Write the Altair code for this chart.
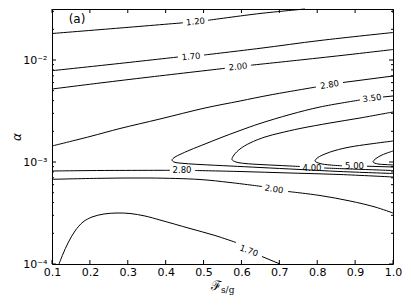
import altair as alt
import pandas as pd

W, H = 341, 255

# ---- contour polylines: (F_s/g, alpha), split at inline labels ----
c120_a = [(0.1000, 0.01818), (0.2795, 0.02059), (0.4457, 0.02316)]
c120_b = [(0.5117, 0.02450), (0.6490, 0.02857), (0.7677, 0.03162)]
c170_a = [(0.1000, 0.007857), (0.2531, 0.009035), (0.4326, 0.01070)]
c170_b = [(0.5012, 0.01119), (0.6490, 0.01302), (0.8073, 0.01553), (1.0000, 0.01860)]
c200_a = [(0.1000, 0.005196), (0.2267, 0.005949), (0.3587, 0.006813), (0.5566, 0.008289)]
c200_b = [(0.6252, 0.008892), (0.7545, 0.01000), (0.8865, 0.01132), (1.0000, 0.01267)]
c280_a = [(0.1000, 0.001435), (0.2003, 0.001778), (0.2795, 0.002130), (0.3850, 0.002640),
          (0.5038, 0.003383), (0.5962, 0.003963), (0.6754, 0.004538), (0.7968, 0.005435)]
c280_b = [(0.8680, 0.006016), (1.0000, 0.006967)]
c350_a = [(0.9736, 0.004338), (1.0000, 0.004437)]
c350_b = [(0.9129, 0.004054), (0.8073, 0.003461), (0.7282, 0.002922), (0.6490, 0.002385),
          (0.5962, 0.002036), (0.5434, 0.001719), (0.5038, 0.001501), (0.4642, 0.001311),
          (0.4378, 0.001185), (0.4246, 0.001119), (0.4167, 0.001046), (0.4220, 0.001000),
          (0.4510, 0.0009667), (0.4906, 0.0009451), (0.5698, 0.0009138), (0.6490, 0.0008834),
          (0.7545, 0.0008444), (0.8601, 0.0008069), (1.0000, 0.0007713)]
c400_a = [(1.0000, 0.003092), (0.9129, 0.002700), (0.8337, 0.002412), (0.7545, 0.002130),
          (0.7018, 0.001924), (0.6622, 0.001758), (0.6226, 0.001536), (0.5962, 0.001341),
          (0.5804, 0.001171), (0.5751, 0.001058), (0.5856, 0.001000), (0.6094, 0.0009667),
          (0.6490, 0.0009451), (0.7018, 0.0009241), (0.7545, 0.0009035)]
c400_b = [(0.8179, 0.0008735), (0.8865, 0.0008540), (1.0000, 0.0008254)]
c500_a = [(1.0000, 0.001606), (0.9393, 0.001501), (0.8865, 0.001403), (0.8469, 0.001296),
          (0.8205, 0.001198), (0.8020, 0.001107), (0.7941, 0.001023), (0.8073, 0.0009667),
          (0.8337, 0.0009346), (0.8654, 0.0009178)]
c500_b = [(0.9314, 0.0009097), (1.0000, 0.0008934)]
c600 = [(1.0000, 0.001282), (0.9710, 0.001171), (0.9551, 0.001082), (0.9472, 0.001000),
        (0.9604, 0.0009559), (0.9789, 0.0009451), (1.0000, 0.0009346)]
c280_lo_a = [(0.1000, 0.0008161), (0.2267, 0.0008254), (0.4114, 0.0008290)]
c280_lo_b = [(0.4774, 0.0008254), (0.5962, 0.0008069), (0.7282, 0.0007800),
             (0.8601, 0.0007541), (1.0000, 0.0007128)]
c200_lo_a = [(0.1000, 0.0006766), (0.2267, 0.0006920), (0.3587, 0.0006967),
             (0.4906, 0.0006735), (0.5698, 0.0006295), (0.6543, 0.0005752)]
c200_lo_b = [(0.7229, 0.0005137), (0.8073, 0.0004695), (0.8865, 0.0004147),
             (0.9525, 0.0003622), (1.0000, 0.0003162)]
c170_lo_a = [(0.1185, 0.0001000), (0.1290, 0.0001253), (0.1422, 0.0001606), (0.1607, 0.0002106),
             (0.1818, 0.0002580), (0.2056, 0.0002889), (0.2372, 0.0003092), (0.2716, 0.0003162),
             (0.3059, 0.0003127), (0.3455, 0.0002955), (0.3850, 0.0002700), (0.4642, 0.0002229),
             (0.5302, 0.0001903), (0.5856, 0.0001625)]
c170_lo_b = [(0.6543, 0.0001184), (0.7018, 0.0001000)]

# ---- inline contour labels ----
lab_text = ["1.20", "1.70", "2.00", "2.80", "3.50", "4.00", "5.00", "2.80", "2.00", "1.70"]
lab_F = [0.4787, 0.4669, 0.5909, 0.8324, 0.9446, 0.7862, 0.8984, 0.4431, 0.6859, 0.6199]
lab_alpha = [0.02385, 0.01087, 0.008636, 0.005752, 0.004241, 0.0008735, 0.0009138,
             0.000829, 0.0005435, 0.0001356]
lab_angle = [354.5, 354.5, 353.5, 350.5, 352, 0, 0, 0, 9, 21]

# ---- ticks ----
x_ticks = [0.1, 0.2, 0.3, 0.4, 0.5, 0.6, 0.7, 0.8, 0.9, 1.0]
y_major = [1e-4, 1e-3, 1e-2]
y_minor = [2e-4, 3e-4, 4e-4, 5e-4, 6e-4, 7e-4, 8e-4, 9e-4,
           2e-3, 3e-3, 4e-3, 5e-3, 6e-3, 7e-3, 8e-3, 9e-3,
           2e-2, 3e-2]

segments = {
    "c120_a": c120_a, "c120_b": c120_b, "c170_a": c170_a, "c170_b": c170_b,
    "c200_a": c200_a, "c200_b": c200_b, "c280_a": c280_a, "c280_b": c280_b,
    "c350_a": c350_a, "c350_b": c350_b, "c400_a": c400_a, "c400_b": c400_b,
    "c500_a": c500_a, "c500_b": c500_b, "c600": c600,
    "c280_lo_a": c280_lo_a, "c280_lo_b": c280_lo_b,
    "c200_lo_a": c200_lo_a, "c200_lo_b": c200_lo_b,
    "c170_lo_a": c170_lo_a, "c170_lo_b": c170_lo_b,
}
rows = []
for name, seg in segments.items():
    for i, (f, a) in enumerate(seg):
        rows.append({"seg": name, "i": i, "F": f, "alpha": a})
lines_df = pd.DataFrame(rows)

labels_df = pd.DataFrame({"text": lab_text, "F": lab_F, "alpha": lab_alpha, "angle": lab_angle})
xt_df = pd.DataFrame({"F": x_ticks})
ymaj_df = pd.DataFrame({"alpha": y_major})
ymin_df = pd.DataFrame({"alpha": y_minor})

x_enc = alt.X(
    "F:Q",
    scale=alt.Scale(domain=[0.1, 1.0], nice=False, zero=False),
    axis=alt.Axis(values=x_ticks, format=".1f", ticks=False, tickSize=0, domain=False,
                  grid=False, labelFontSize=11, labelFont="DejaVu Sans", labelColor="black",
                  labelPadding=2, labelFlush=False, labelOverlap=False, title=None),
)
y_enc = alt.Y(
    "alpha:Q",
    scale=alt.Scale(type="log", domain=[1e-4, 0.0316228], nice=False),
    axis=alt.Axis(values=y_major,
                  labelExpr="datum.value < 0.0005 ? '10⁻⁴' : (datum.value < 0.005 ? '10⁻³' : '10⁻²')",
                  ticks=False, tickSize=0, domain=False, grid=False, labelFontSize=11,
                  labelFont="DejaVu Sans", labelColor="black", labelPadding=5,
                  labelFlush=False, labelOverlap=False,
                  title="α", titleFont="DejaVu Sans", titleFontSize=12, titleFontStyle="italic",
                  titleFontWeight="normal", titleColor="black", titleAngle=270,
                  titleX=-36, titleY=H / 2, titleAlign="center", titleBaseline="middle"),
)

lines = alt.Chart(lines_df).mark_line(color="black", strokeWidth=1, interpolate="catmull-rom").encode(
    x=x_enc, y=y_enc, detail="seg:N", order="i:Q")

labels = alt.Chart(labels_df).mark_text(font="DejaVu Sans", fontSize=8.5, color="black",
                                        align="center", baseline="middle").encode(
    x=x_enc, y=y_enc, text="text:N", angle=alt.Angle("angle:Q", scale=None))

tick_style = dict(color="black", strokeWidth=1)
xt_bottom = alt.Chart(xt_df).mark_rule(**tick_style).encode(x=x_enc, y=alt.value(H), y2=alt.value(H - 4))
xt_top = alt.Chart(xt_df).mark_rule(**tick_style).encode(x=x_enc, y=alt.value(0), y2=alt.value(4))
ymaj_l = alt.Chart(ymaj_df).mark_rule(**tick_style).encode(y=y_enc, x=alt.value(0), x2=alt.value(4))
ymaj_r = alt.Chart(ymaj_df).mark_rule(**tick_style).encode(y=y_enc, x=alt.value(W), x2=alt.value(W - 4))
ymin_l = alt.Chart(ymin_df).mark_rule(**tick_style).encode(y=y_enc, x=alt.value(0), x2=alt.value(2))
ymin_r = alt.Chart(ymin_df).mark_rule(**tick_style).encode(y=y_enc, x=alt.value(W), x2=alt.value(W - 2))

one = pd.DataFrame({"t": ["ℱ"], "s": ["s/g"], "p": ["(a)"]})
xtitle_main = alt.Chart(one).mark_text(font="DejaVu Serif", fontSize=13, color="black",
                                       align="center", baseline="middle").encode(
    x=alt.value(164), y=alt.value(277), text="t:N")
xtitle_sub = alt.Chart(one).mark_text(font="DejaVu Serif", fontSize=9, color="black",
                                      align="left", baseline="middle").encode(
    x=alt.value(169), y=alt.value(281), text="s:N")
panel = alt.Chart(one).mark_text(font="DejaVu Sans", fontSize=12, color="black",
                                 align="center", baseline="middle").encode(
    x=alt.value(25), y=alt.value(10), text="p:N")

chart = alt.layer(
    lines, labels, xt_bottom, xt_top, ymaj_l, ymaj_r, ymin_l, ymin_r,
    xtitle_main, xtitle_sub, panel
).properties(
    width=W, height=H,
    padding={"left": 44, "top": 1, "right": 10, "bottom": 35},
    autosize=alt.AutoSizeParams(type="none"),
).configure_view(stroke="black", strokeWidth=1)

chart.save("out.html", embed_options={"renderer": "svg", "actions": False})
